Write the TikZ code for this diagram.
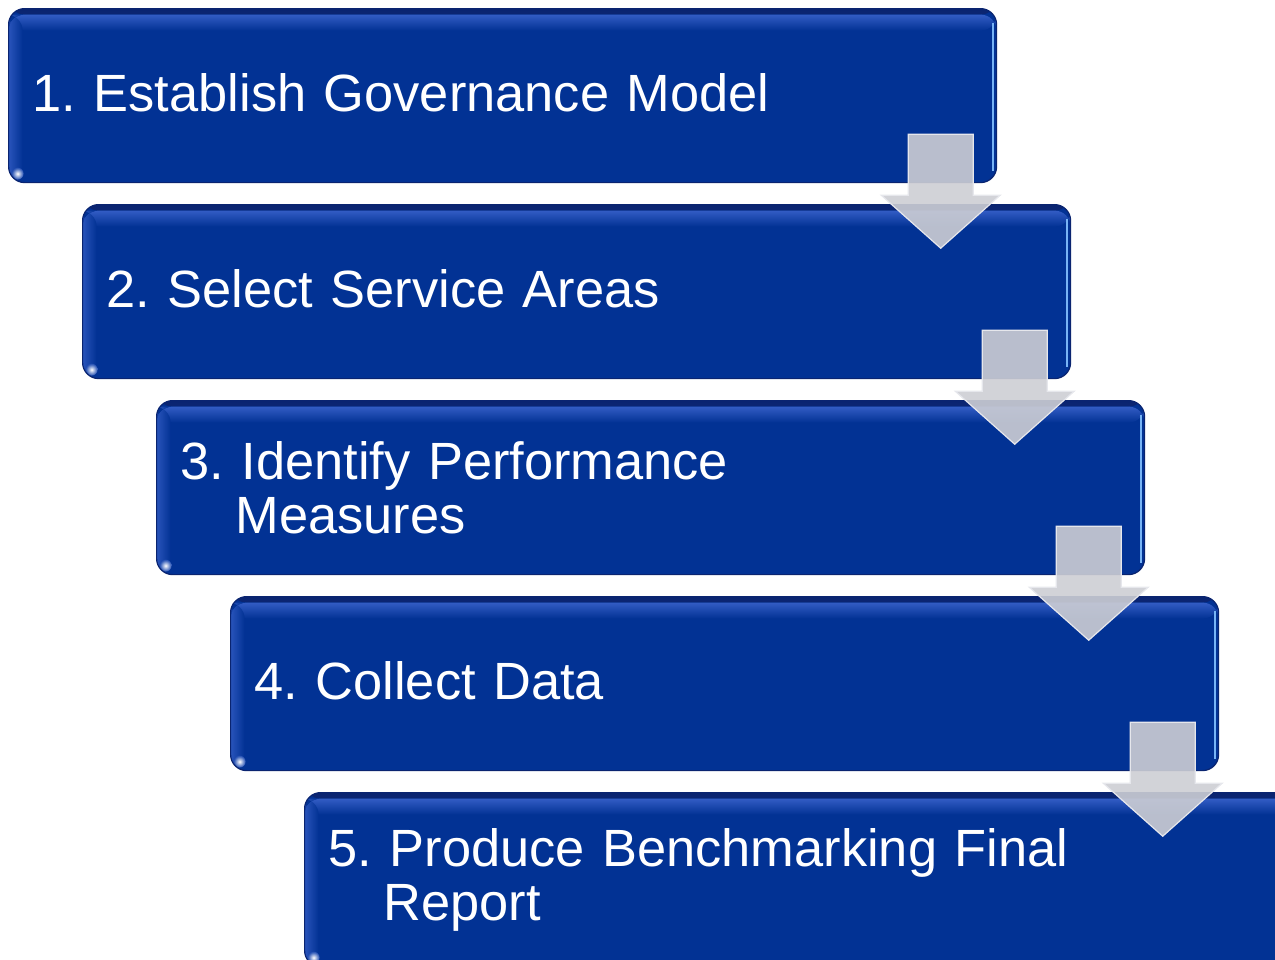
\documentclass[tikz,border=0pt]{standalone}
\usepackage{fontspec}
\setmainfont{Liberation Sans}
\usetikzlibrary{calc}
\definecolor{boxblue}{RGB}{2,50,148}
\definecolor{boxedge}{RGB}{10,36,112}
\definecolor{boxlight}{RGB}{50,92,196}
\definecolor{boxshine}{RGB}{120,180,245}
\definecolor{arrowfill}{RGB}{205,206,212}
\definecolor{arrowedge}{RGB}{230,231,236}
\tikzset{
  stepbox/.style={rectangle, rounded corners=16pt, fill=boxblue, draw=boxedge,
    line width=1.2pt, minimum width=988pt, minimum height=174pt,
    text width=940pt, inner xsep=24pt, inner ysep=0pt, align=left,
    anchor=north west, text=white,
    font=\fontsize{52.4pt}{54pt}\selectfont\frenchspacing,
    path picture={
      \shade[top color=boxedge, bottom color=boxlight]
        (path picture bounding box.north west) rectangle
        ([yshift=-6pt]path picture bounding box.north east);
      \shade[top color=boxlight, bottom color=boxblue]
        ([yshift=-6pt]path picture bounding box.north west) rectangle
        ([yshift=-22pt]path picture bounding box.north east);
      \shade[left color=boxlight!80!boxblue, right color=boxblue]
        ([yshift=-6pt]path picture bounding box.north west) rectangle
        ([xshift=14pt]path picture bounding box.south west);
      \draw[boxshine, line width=2pt]
        ([xshift=-4pt,yshift=-14pt]path picture bounding box.north east) --
        ([xshift=-4pt,yshift=12pt]path picture bounding box.south east);
      \shade[inner color=white, outer color=boxlight!60!boxblue]
        ([xshift=9pt,yshift=9pt]path picture bounding box.south west) circle (6pt);
    }},
  lifted/.style={text depth=7pt},
  flowarrow/.style={fill=arrowfill, fill opacity=0.9, draw=arrowedge,
    line width=1.2pt, line join=miter}
}
\begin{document}
\begin{tikzpicture}[x=1pt,y=-1pt]
\useasboundingbox (0,0) rectangle (1275,959);
\clip (0,0) rectangle (1275,959);

\node[stepbox,lifted] (b1) at (8,8)   {1. Establish Governance Model};
\node[stepbox,lifted] (b2) at (82,204)  {2. Select Service Areas};
\node[stepbox] (b3) at (156,400) {3. Identify Performance\\\hspace*{55pt}Measures};
\node[stepbox,lifted] (b4) at (230,596) {4. Collect Data};
\node[stepbox] (b5) at (304,792) {5. Produce Benchmarking Final\\\hspace*{55pt}Report};

\foreach \b in {b1,b2,b3,b4}{
  \draw[flowarrow] ($(\b.south east)+(-89,-49)$) -- ++(65,0) -- ++(0,61) -- ++(27,0)
    -- ($(\b.south east)+(-56.5,65)$) -- ($(\b.south east)+(-116,12)$) -- ++(27,0) -- cycle;
}
\end{tikzpicture}
\end{document}
